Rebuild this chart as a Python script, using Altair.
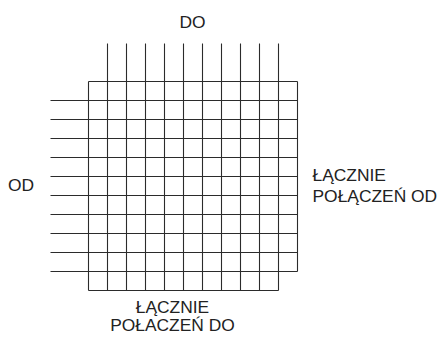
import altair as alt
import pandas as pd

# Grid structure of the origin-destination matrix
origins = ["O1", "O2", "O3", "O4", "O5", "O6", "O7", "O8", "O9", "O10"]
destinations = ["D1", "D2", "D3", "D4", "D5", "D6", "D7", "D8", "D9", "D10"]
label_top = "DO"
label_left = "OD"
label_right = ["ŁĄCZNIE", "POŁĄCZEŃ OD"]
label_bottom = ["ŁĄCZNIE", "POŁACZEŃ DO"]

n_c = len(destinations)  # inner columns
n_r = len(origins)       # inner rows
ext = 2                  # how far the inner lines stick out

segs = []
# vertical inner lines (extend upwards)
for i in range(1, n_c + 1):
    segs.append(dict(x=i, x2=i, y=-ext, y2=n_r + 1))
# horizontal inner lines (extend to the left)
for j in range(1, n_r + 1):
    segs.append(dict(x=-ext, x2=n_c + 1, y=j, y2=j))
# outer frame (bottom-right total cell left empty)
segs.append(dict(x=0, x2=0, y=0, y2=n_r + 1))
segs.append(dict(x=0, x2=n_c + 1, y=0, y2=0))
segs.append(dict(x=n_c + 1, x2=n_c + 1, y=0, y2=n_r))
segs.append(dict(x=0, x2=n_c, y=n_r + 1, y2=n_r + 1))
segs = pd.DataFrame(segs)

labels = pd.DataFrame([
    dict(t=label_top, x=5.47, y=-2.84, a="center"),
    dict(t=label_left, x=-3.55, y=5.78, a="center"),
    dict(t=label_right[0], x=11.79, y=5.24, a="left"),
    dict(t=label_right[1], x=11.79, y=6.32, a="left"),
    dict(t=label_bottom[0], x=4.42, y=12.16, a="center"),
    dict(t=label_bottom[1], x=4.42, y=13.13, a="center"),
])

W, H = 430, 327
u = 19.0
x0 = -(88.5 - 8) / u
y0 = -(81.5 - 8) / u
xs = alt.Scale(domain=[x0, x0 + W / u], nice=False, zero=False)
ys = alt.Scale(domain=[y0, y0 + H / u], nice=False, zero=False, reverse=True)

rules = alt.Chart(segs).mark_rule(color="#2b2b2b", strokeWidth=1.1).encode(
    x=alt.X("x:Q", scale=xs, axis=None),
    x2="x2:Q",
    y=alt.Y("y:Q", scale=ys, axis=None),
    y2="y2:Q",
)

def txt(align):
    return alt.Chart(labels[labels.a == align]).mark_text(
        font="Liberation Sans", fontSize=17.4, color="#222222",
        align=align, baseline="alphabetic"
    ).encode(
        x=alt.X("x:Q", scale=xs, axis=None),
        y=alt.Y("y:Q", scale=ys, axis=None),
        text="t:N",
    )

chart = alt.layer(rules, txt("center"), txt("left")).properties(
    width=W, height=H, padding=0, autosize="none"
).configure_view(stroke=None)

chart.save("out.html", embed_options={"renderer": "svg", "actions": False})
